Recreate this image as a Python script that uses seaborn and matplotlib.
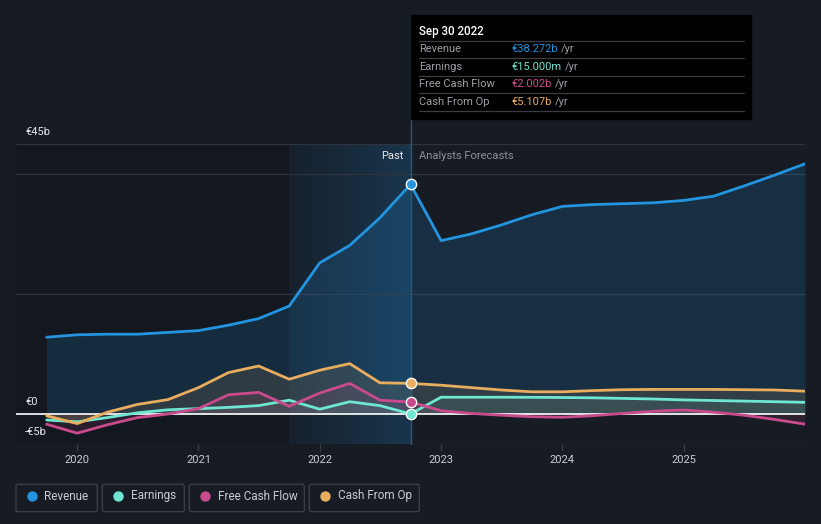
import numpy as np
import pandas as pd
import seaborn as sns
import matplotlib
matplotlib.use("Agg")
import matplotlib.pyplot as plt
from matplotlib.patches import Rectangle, FancyBboxPatch
from matplotlib.lines import Line2D
from matplotlib.colors import LinearSegmentedColormap

# ---------------- data ----------------
dates = ["2019-09-30", "2019-12-31", "2020-03-31", "2020-06-30", "2020-09-30",
         "2020-12-31", "2021-03-31", "2021-06-30", "2021-09-30", "2021-12-31",
         "2022-03-31", "2022-06-30", "2022-09-30",
         "2022-12-31", "2023-03-31", "2023-06-30", "2023-09-30", "2023-12-31",
         "2024-03-31", "2024-06-30", "2024-09-30", "2024-12-31", "2025-03-31",
         "2025-06-30", "2025-09-30", "2025-12-31"]

revenue = [12.8, 13.2, 13.3, 13.3, 13.6, 13.9, 14.8, 15.9, 18.0, 25.2, 28.1, 32.7, 38.272,
           28.9, 30.0, 31.5, 33.2, 34.6, 34.9, 35.05, 35.2, 35.6, 36.3, 38.0, 39.8, 41.7]
earnings = [-1.0, -1.3, -0.6, 0.2, 0.7, 0.9, 1.1, 1.4, 2.3, 0.8, 2.05, 1.4, 0.015,
            2.8, 2.8, 2.8, 2.78, 2.75, 2.7, 2.6, 2.5, 2.35, 2.25, 2.15, 2.05, 1.95]
fcf = [-1.7, -3.2, -1.8, -0.6, 0.0, 0.9, 3.2, 3.6, 1.3, 3.5, 5.1, 2.3, 2.002,
       0.55, 0.1, -0.2, -0.45, -0.55, -0.28, 0.1, 0.45, 0.67, 0.3, -0.2, -0.9, -1.7]
cfo = [-0.3, -1.6, 0.3, 1.6, 2.4, 4.4, 6.9, 8.0, 5.8, 7.3, 8.4, 5.2, 5.107,
       4.8, 4.4, 4.0, 3.7, 3.7, 3.9, 4.05, 4.1, 4.1, 4.1, 4.05, 4.0, 3.8]

series_names = ["Revenue", "Earnings", "Free Cash Flow", "Cash From Op"]
colors = ["#2394df", "#6ee6d1", "#c94b8c", "#e8ad5e"]
tooltip_values = ["€38.272b", "€15.000m", "€2.002b", "€5.107b"]
year_ticks = [2020, 2021, 2022, 2023, 2024, 2025]
y_labels = ["€45b", "€0", "-€5b"]

past_start = "2021-09-30"
now_date = "2022-09-30"

# ---------------- helpers ----------------
def dec_year(s):
    d = pd.Timestamp(s)
    n = 366 if d.is_leap_year else 365
    return d.year + d.dayofyear / n

x = [dec_year(d) for d in dates]
x_now = dec_year(now_date)
x_past = dec_year(past_start)

df = pd.DataFrame({
    "x": x * 4,
    "value": revenue + earnings + fcf + cfo,
    "series": sum([[n] * len(x) for n in series_names], []),
})

W, H = 821, 524
BG = "#161b24"

sns.set_theme(style="dark")
plt.rcParams["font.family"] = ["Roboto", "DejaVu Sans"]

fig = plt.figure(figsize=(W / 100, H / 100), dpi=100, facecolor=BG)
ax_l, ax_r, ax_t, ax_b = 16, 805, 144, 444
ax = fig.add_axes([ax_l / W, 1 - ax_b / H, (ax_r - ax_l) / W, (ax_b - ax_t) / H])
ax.set_facecolor(BG)

x_right = x[-1]
x_left = x_right - (ax_r - ax_l) / 121.3
ax.set_xlim(x_left, x_right)
ax.set_ylim(-5, 45)

# background regions
ax.axvspan(x_left, x_past, color="#0d1015", alpha=0.3, zorder=0.2, lw=0)
cmap = LinearSegmentedColormap.from_list(
    "hl", [(0.137, 0.58, 0.875, 0.05), (0.137, 0.58, 0.875, 0.22)])
ax.imshow(np.linspace(0, 1, 256).reshape(1, -1), extent=[x_past, x_now, -5, 45],
          aspect="auto", cmap=cmap, zorder=0.3, interpolation="bilinear")

# grid lines
for v in [45, 40, 20]:
    ax.axhline(v, color="#2e343e", lw=0.9, zorder=0.5)
ax.axhline(-5, color="#3a404a", lw=0.9, zorder=0.5)

# fills
fill_alpha = [0.17, 0.10, 0.13, 0.12]
for name, c, a in zip(series_names, colors, fill_alpha):
    vals = df.loc[df.series == name, "value"].to_numpy()
    ax.fill_between(x, vals, 0, color=c, alpha=a, lw=0, zorder=1)

ax.axhline(0, color="white", lw=1.2, zorder=2)

sns.lineplot(data=df, x="x", y="value", hue="series", hue_order=series_names,
             palette=colors, linewidth=2.0, legend=False, ax=ax, sort=False,
             zorder=3)
for ln in ax.lines:
    ln.set_solid_capstyle("round")
    ln.set_solid_joinstyle("round")

# now line
ax.axvline(x_now, ymin=0, ymax=(ax_b - 15) / (ax_b - ax_t), clip_on=False,
           color="#2f5675", lw=1.0, zorder=2.5)

# markers at now
idx_now = dates.index(now_date)
for vals, c in zip([revenue, earnings, fcf, cfo], colors):
    ax.scatter([x_now], [vals[idx_now]], s=55, color=c, edgecolor="white",
               linewidth=1.0, zorder=6, clip_on=False)

# axes styling
for sp in ax.spines.values():
    sp.set_visible(False)
ax.set_yticks([])
ax.set_xticks(year_ticks)
ax.set_xticklabels([str(y) for y in year_ticks])
ax.tick_params(axis="x", colors="#3a404a", labelcolor="#c9cdd3", labelsize=8,
               length=5, width=0.9, pad=3, bottom=True)
ax.set_xlabel("")
ax.set_ylabel("")
ax.grid(False)

def fx(px):
    return px / W

def fy(py):
    return 1 - py / H

# y labels
for lab, py in zip(y_labels, [132, 402, 432]):
    fig.text(fx(25), fy(py), lab, color="#e6e8eb", fontsize=8, va="center", ha="left")

# Past / forecasts
fig.text(fx(403), fy(156), "Past", color="#e6e8eb", fontsize=8, va="center", ha="right")
fig.text(fx(419), fy(156), "Analysts Forecasts", color="#8c9199", fontsize=8,
         va="center", ha="left")

# tooltip
fig.add_artist(Rectangle((fx(411), fy(119)), (751 - 411) / W, (119 - 15) / H,
                         transform=fig.transFigure, color="black", zorder=10))
fig.text(fx(419), fy(31), "Sep 30 2022", color="white", fontsize=8.3,
         fontweight="medium", va="center", ha="left", zorder=11)
for sy in [41, 58.3, 76, 93.3, 111]:
    fig.add_artist(Line2D([fx(419), fx(744)], [fy(sy), fy(sy)], transform=fig.transFigure,
                          color="#3a3d42", lw=0.9, zorder=11))
row_y = [49, 66.7, 84.3, 101.7]
for name, c, v, ry in zip(series_names, colors, tooltip_values, row_y):
    fig.text(fx(419), fy(ry), name, color="#9a9ea5", fontsize=8, va="center",
             ha="left", zorder=12)
    t = fig.text(fx(511.5), fy(ry), v, color=c, fontsize=8, va="center", ha="left",
                 zorder=12)
    fig.canvas.draw()
    bb = t.get_window_extent()
    fig.text(bb.x1 / W + 3 / W, fy(ry), "/yr", color="#9a9ea5", fontsize=8,
             va="center", ha="left", zorder=12)

# legend
boxes = [(16, 97.3), (102.3, 184.3), (189.3, 304.3), (309.3, 419.3)]
for (bx0, bx1), name, c in zip(boxes, series_names, colors):
    fig.add_artist(FancyBboxPatch((fx(bx0), fy(511.7)), (bx1 - bx0) / W, (511.7 - 484.3) / H,
                                  boxstyle="round,pad=0,rounding_size=0.003",
                                  transform=fig.transFigure, facecolor=BG,
                                  edgecolor="#3c414b", lw=0.9))
    fig.add_artist(Line2D([fx(bx0 + 15.7)], [fy(496)], marker="o", markersize=6.5,
                          color=c, lw=0, transform=fig.transFigure))
    fig.text(fx(bx0 + 28.3), fy(496), name, color="#c9cdd3", fontsize=8.5,
             va="center", ha="left")

fig.savefig("out.png", dpi=100, facecolor=BG)
